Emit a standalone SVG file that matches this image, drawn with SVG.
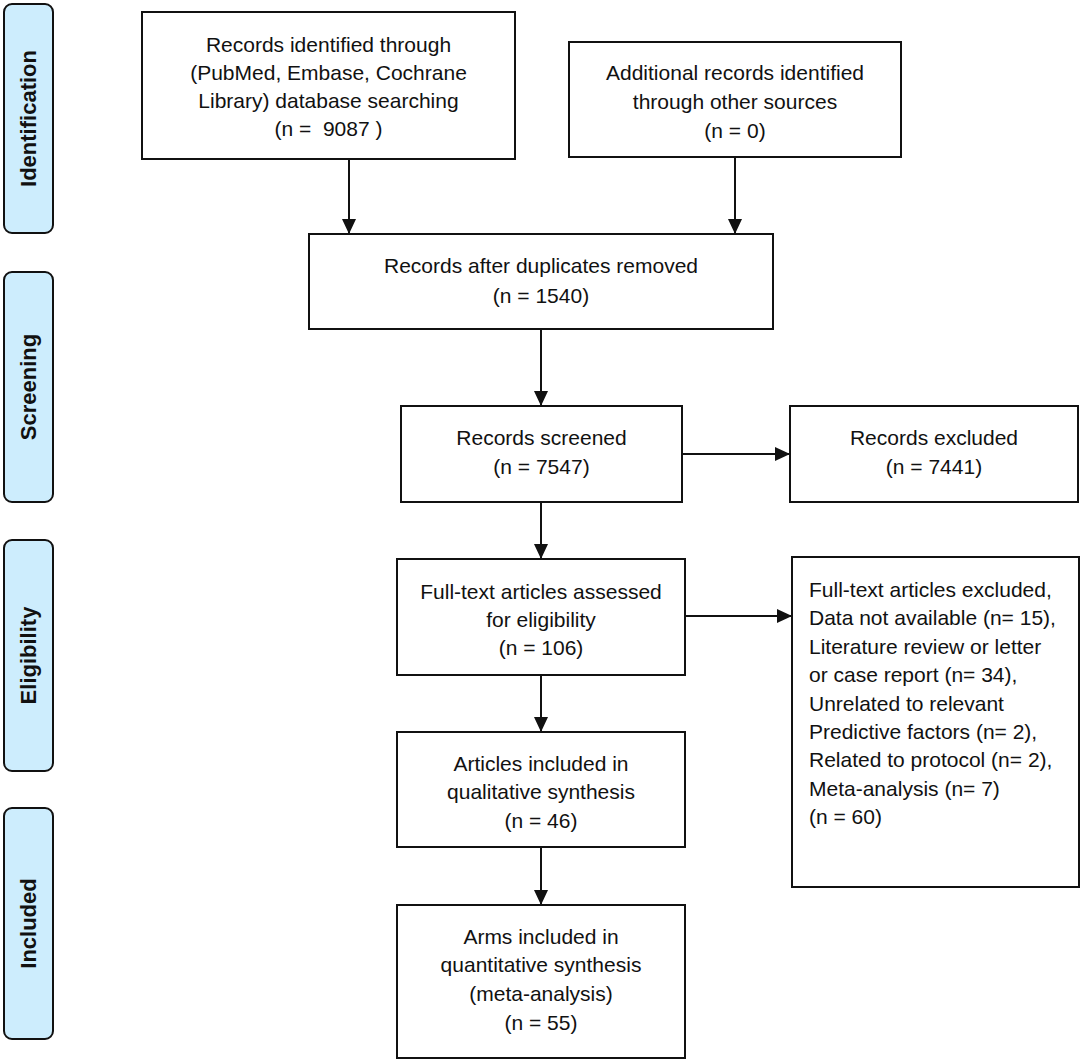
<svg xmlns="http://www.w3.org/2000/svg" width="1084" height="1063" viewBox="0 0 1084 1063">
<defs>
<style>
.box{fill:#fff;stroke:#111;stroke-width:2}
.bar{fill:#cdedfd;stroke:#111;stroke-width:2}
.t{font-family:"Liberation Sans",Arial,sans-serif;font-size:21px;fill:#111;text-anchor:middle}
.tl{font-family:"Liberation Sans",Arial,sans-serif;font-size:21px;fill:#111}
.side{font-family:"Liberation Sans",Arial,sans-serif;font-size:22px;font-weight:bold;fill:#111;text-anchor:middle}
.c{stroke:#111;stroke-width:2;fill:none;marker-end:url(#ah)}
</style>
<marker id="ah" markerUnits="userSpaceOnUse" markerWidth="14" markerHeight="14" refX="15" refY="7" orient="auto">
<path d="M0,0 L15,7 L0,14 z" fill="#111"/>
</marker>
</defs>
<rect width="1084" height="1063" fill="#fff"/>

<g id="bar-identification">
<rect class="bar" x="4" y="4" width="49" height="229" rx="8"/>
<text class="side" transform="translate(36,118.5) rotate(-90)">Identification</text>
</g>
<g id="bar-screening">
<rect class="bar" x="4" y="272" width="49" height="230" rx="8"/>
<text class="side" transform="translate(36,387) rotate(-90)">Screening</text>
</g>
<g id="bar-eligibility">
<rect class="bar" x="4" y="540" width="49" height="231" rx="8"/>
<text class="side" transform="translate(36,655.5) rotate(-90)">Eligibility</text>
</g>
<g id="bar-included">
<rect class="bar" x="4" y="808" width="49" height="231" rx="8"/>
<text class="side" transform="translate(36,923.5) rotate(-90)">Included</text>
</g>

<g id="connectors">
<line class="c" x1="349" y1="159" x2="349" y2="234"/>
<line class="c" x1="735" y1="157" x2="735" y2="234"/>
<line class="c" x1="541" y1="329" x2="541" y2="406"/>
<line class="c" x1="682" y1="454" x2="790" y2="454"/>
<line class="c" x1="541" y1="502" x2="541" y2="559"/>
<line class="c" x1="685" y1="616" x2="792" y2="616"/>
<line class="c" x1="541" y1="675" x2="541" y2="732"/>
<line class="c" x1="541" y1="847" x2="541" y2="905"/>
</g>

<g id="n-identified">
<rect class="box" x="142" y="12" width="373" height="147"/>
<text class="t" x="328.5" y="52">Records identified through</text>
<text class="t" x="328.5" y="80">(PubMed, Embase, Cochrane</text>
<text class="t" x="328.5" y="108">Library) database searching</text>
<text class="t" x="328.5" y="136" xml:space="preserve">(n =  9087 )</text>
</g>
<g id="n-additional">
<rect class="box" x="569" y="42" width="332" height="115"/>
<text class="t" x="735" y="80">Additional records identified</text>
<text class="t" x="735" y="109">through other sources</text>
<text class="t" x="735" y="138">(n = 0)</text>
</g>
<g id="n-duplicates">
<rect class="box" x="309" y="234" width="464" height="95"/>
<text class="t" x="541" y="273">Records after duplicates removed</text>
<text class="t" x="541" y="303">(n = 1540)</text>
</g>
<g id="n-screened">
<rect class="box" x="401" y="406" width="281" height="96"/>
<text class="t" x="541.5" y="445">Records screened</text>
<text class="t" x="541.5" y="474">(n = 7547)</text>
</g>
<g id="n-excluded">
<rect class="box" x="790" y="406" width="288" height="96"/>
<text class="t" x="934" y="445">Records excluded</text>
<text class="t" x="934" y="474">(n = 7441)</text>
</g>
<g id="n-fulltext">
<rect class="box" x="397" y="559" width="288" height="116"/>
<text class="t" x="541" y="599">Full-text articles assessed</text>
<text class="t" x="541" y="627">for eligibility</text>
<text class="t" x="541" y="655">(n = 106)</text>
</g>
<g id="n-ft-excluded">
<rect class="box" x="792" y="557" width="287" height="330"/>
<text class="tl" x="809" y="597">Full-text articles excluded,</text>
<text class="tl" x="809" y="625.4">Data not available (n= 15),</text>
<text class="tl" x="809" y="653.8">Literature review or letter</text>
<text class="tl" x="809" y="682.2">or case report (n= 34),</text>
<text class="tl" x="809" y="710.6">Unrelated to relevant</text>
<text class="tl" x="809" y="739">Predictive factors (n= 2),</text>
<text class="tl" x="809" y="767.4">Related to protocol (n= 2),</text>
<text class="tl" x="809" y="795.8">Meta-analysis (n= 7)</text>
<text class="tl" x="809" y="824.2">(n = 60)</text>
</g>
<g id="n-qualitative">
<rect class="box" x="397" y="732" width="288" height="115"/>
<text class="t" x="541" y="771">Articles included in</text>
<text class="t" x="541" y="799">qualitative synthesis</text>
<text class="t" x="541" y="828">(n = 46)</text>
</g>
<g id="n-quantitative">
<rect class="box" x="397" y="905" width="288" height="153"/>
<text class="t" x="541" y="944">Arms included in</text>
<text class="t" x="541" y="972">quantitative synthesis</text>
<text class="t" x="541" y="1001">(meta-analysis)</text>
<text class="t" x="541" y="1030">(n = 55)</text>
</g>
</svg>
